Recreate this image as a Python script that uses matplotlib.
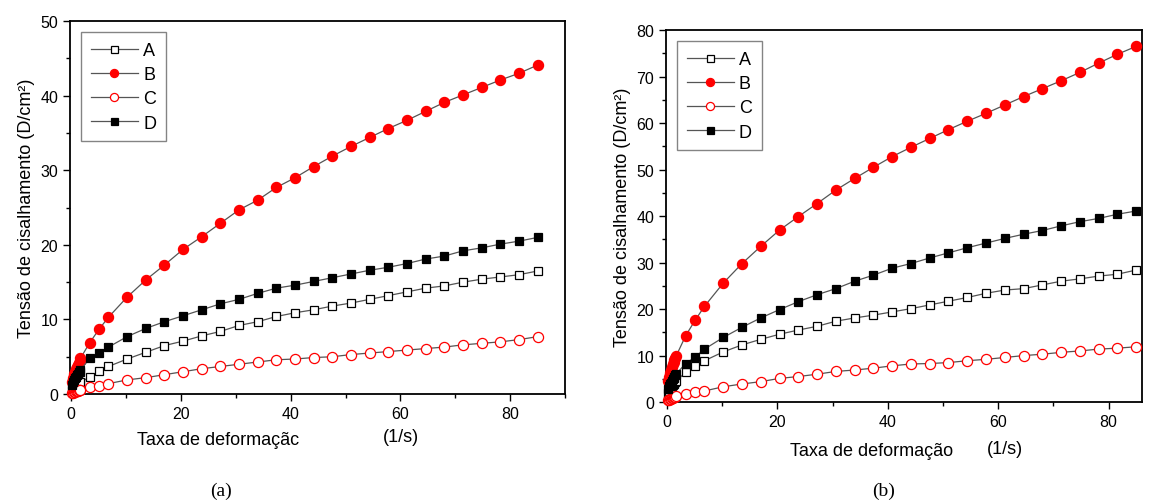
import matplotlib
matplotlib.use("Agg")
import matplotlib.pyplot as plt
from matplotlib.ticker import MultipleLocator

# shear rate (1/s)
rate = [0.17, 0.34, 0.51, 0.68, 0.85, 1.02, 1.19, 1.36, 1.53, 1.7,
        3.4, 5.1, 6.8, 10.2, 13.6, 17.0, 20.4, 23.8, 27.2, 30.6, 34.0,
        37.4, 40.8, 44.2, 47.6, 51.0, 54.4, 57.8, 61.2, 64.6, 68.0, 71.4,
        74.8, 78.2, 81.6, 85.0]

# panel (a) shear stress (D/cm2)
a_A = [0.5, 0.7, 0.9, 1.0, 1.1, 1.2, 1.3, 1.4, 1.5, 1.6,
       2.3, 3.1, 3.7, 4.7, 5.6, 6.5, 7.1, 7.8, 8.4, 9.2, 9.7,
       10.4, 10.9, 11.3, 11.8, 12.2, 12.7, 13.2, 13.7, 14.2, 14.5, 15.0,
       15.4, 15.7, 16.0, 16.5]
a_B = [1.6, 2.2, 2.7, 3.0, 3.3, 3.6, 3.9, 4.2, 4.5, 4.8,
       6.9, 8.7, 10.3, 13.0, 15.3, 17.3, 19.4, 21.1, 22.9, 24.7, 26.0,
       27.7, 29.0, 30.5, 31.9, 33.2, 34.4, 35.6, 36.7, 37.9, 39.1, 40.1,
       41.1, 42.1, 43.0, 44.1]
a_C = [0.15, 0.2, 0.25, 0.3, 0.35, 0.4, 0.45, 0.5, 0.55, 0.6,
       0.9, 1.1, 1.4, 1.9, 2.2, 2.6, 3.0, 3.4, 3.7, 4.0, 4.3,
       4.6, 4.7, 4.9, 5.0, 5.3, 5.5, 5.7, 5.9, 6.1, 6.3, 6.6,
       6.8, 7.0, 7.3, 7.7]
a_D = [1.2, 1.6, 1.9, 2.1, 2.3, 2.5, 2.7, 2.9, 3.0, 3.2,
       4.8, 5.5, 6.3, 7.7, 8.8, 9.7, 10.5, 11.3, 12.1, 12.7, 13.5,
       14.2, 14.6, 15.1, 15.6, 16.1, 16.6, 17.0, 17.5, 18.1, 18.5, 19.2,
       19.6, 20.1, 20.5, 21.0]

# panel (b) shear stress (D/cm2)
b_A = [2.0, 2.4, 2.8, 3.1, 3.4, 3.6, 3.9, 4.1, 4.3, 4.6,
       6.4, 7.8, 8.9, 10.8, 12.3, 13.5, 14.6, 15.5, 16.3, 17.4, 18.1,
       18.7, 19.4, 20.1, 20.9, 21.7, 22.5, 23.4, 24.1, 24.4, 25.2, 26.0,
       26.5, 27.1, 27.5, 28.4]
b_B = [4.6, 5.5, 6.3, 7.0, 7.6, 8.1, 8.6, 9.1, 9.5, 10.0,
       14.3, 17.6, 20.6, 25.6, 29.8, 33.5, 37.0, 39.9, 42.7, 45.6, 48.1,
       50.5, 52.8, 54.8, 56.7, 58.6, 60.4, 62.1, 63.9, 65.7, 67.4, 69.1,
       70.9, 72.9, 74.8, 76.5]
b_C = [0.4, 0.5, 0.6, 0.7, 0.8, 0.9, 1.0, 1.1, 1.2, 1.3,
       1.7, 2.1, 2.4, 3.3, 3.9, 4.4, 5.1, 5.5, 6.0, 6.6, 6.9,
       7.3, 7.8, 8.2, 8.3, 8.5, 8.9, 9.2, 9.6, 10.0, 10.3, 10.7,
       11.0, 11.4, 11.6, 11.9]
b_D = [2.8, 3.4, 3.8, 4.2, 4.6, 4.9, 5.2, 5.5, 5.8, 6.1,
       8.3, 9.7, 11.4, 13.9, 16.1, 18.1, 19.9, 21.6, 23.1, 24.4, 26.0,
       27.3, 28.8, 29.8, 31.0, 32.1, 33.2, 34.2, 35.2, 36.1, 36.9, 37.9,
       38.8, 39.5, 40.4, 41.1]

labels = ["A", "B", "C", "D"]

plt.rcParams["font.family"] = ["Liberation Sans", "DejaVu Sans"]

fig = plt.figure(figsize=(11.52, 5.02), dpi=100)
ax1 = fig.add_axes([0.0608, 0.213, 0.4297, 0.743])
ax2 = fig.add_axes([0.578, 0.197, 0.413, 0.741])

# marker styles: open square, red dot, open red circle, black square
styles = [
    dict(marker="s", mfc="white", mec="black", ms=6.3, mew=0.9),
    dict(marker="o", mfc="red", mec="red", ms=7.3, mew=0.9),
    dict(marker="o", mfc="white", mec="red", ms=7.3, mew=0.9),
    dict(marker="s", mfc="black", mec="black", ms=6.3, mew=0.9),
]


def draw(ax, series, ymax):
    for ys, lab, st in zip(series, labels, styles):
        ax.plot(rate, ys, color="#555555", lw=0.9, label=lab, clip_on=False,
                zorder=3, **st)
    ax.set_ylim(0, ymax)
    ax.xaxis.set_major_locator(MultipleLocator(20))
    ax.xaxis.set_minor_locator(MultipleLocator(10))
    ax.yaxis.set_major_locator(MultipleLocator(10))
    ax.yaxis.set_minor_locator(MultipleLocator(5))
    ax.tick_params(which="both", direction="out", top=False, right=False,
                   labelsize=11.5, width=1.0)
    ax.tick_params(which="major", length=5)
    ax.tick_params(which="minor", length=3)
    for s in ax.spines.values():
        s.set_linewidth(1.3)
    leg = ax.legend(loc="upper left", fontsize=13, frameon=True, fancybox=False,
                    edgecolor="#666666", handlelength=2.6, handletextpad=0.3,
                    borderpad=0.55, labelspacing=0.4, borderaxespad=0.6,
                    markerscale=0.8)
    leg.get_frame().set_linewidth(1.0)
    leg.set_zorder(5)
    ax.set_ylabel("Tensão de cisalhamento (D/cm²)", fontsize=13)


draw(ax1, [a_A, a_B, a_C, a_D], 50)
ax1.set_xlim(-0.2, 90)
draw(ax2, [b_A, b_B, b_C, b_D], 80)
ax2.set_xlim(-0.2, 86)

# x axis labels, placed like in the original figure
fig.text(0.119, 0.123, "Taxa de deformaçãc", fontsize=13, va="center")
fig.text(0.332, 0.128, "(1/s)", fontsize=13, va="center")
fig.text(0.686, 0.100, "Taxa de deformação", fontsize=13, va="center")
fig.text(0.857, 0.104, "(1/s)", fontsize=13, va="center")

fig.text(0.192, 0.022, "(a)", fontsize=14, family="Liberation Serif",
         ha="center", va="center")
fig.text(0.767, 0.022, "(b)", fontsize=14, family="Liberation Serif",
         ha="center", va="center")

plt.savefig("out.png", dpi=100)
